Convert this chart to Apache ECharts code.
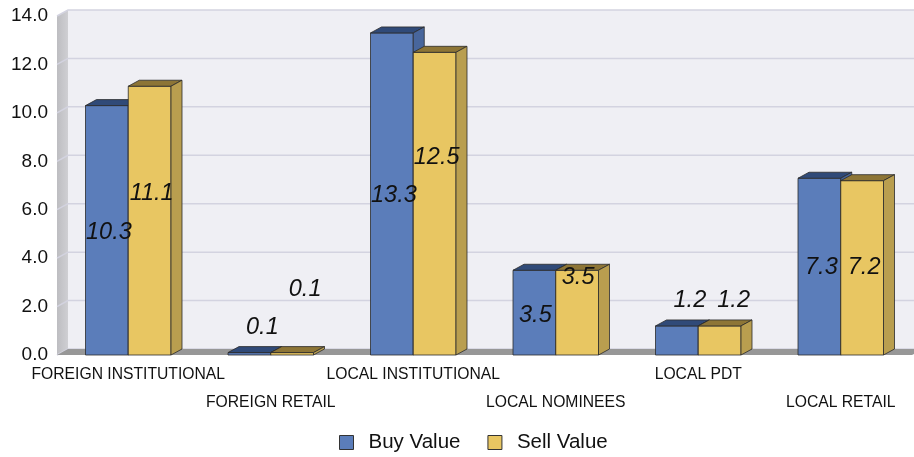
<!DOCTYPE html>
<html>
<head>
<meta charset="utf-8">
<script src="https://cdn.jsdelivr.net/npm/echarts@6/dist/echarts.min.js"></script>
<style>
  html, body { margin: 0; padding: 0; background: #fff; }
  #main { width: 914px; height: 457px; }
</style>
</head>
<body>
<div id="main"></div>
<script>
// data
var categories = ['FOREIGN INSTITUTIONAL', 'FOREIGN RETAIL', 'LOCAL INSTITUTIONAL', 'LOCAL NOMINEES', 'LOCAL PDT', 'LOCAL RETAIL'];
var buyValue = [10.3, 0.1, 13.3, 3.5, 1.2, 7.3];
var sellValue = [11.1, 0.1, 12.5, 3.5, 1.2, 7.2];
var yTicks = [0, 2, 4, 6, 8, 10, 12, 14];

// 3d depth offset (px)
var DX = 11, DY = -6;
var FONT = '"Liberation Sans", Arial, sans-serif';

// where the value labels sit: px above the floor, px to the right of the bar centre
var buyLabelRise = [123, 28, 160, 40, 55, 88];
var sellLabelRise = [162, 66, 198, 78, 55, 88];
var buyLabelShift = [2, 13, 2, 1, 13, 2];
var sellLabelShift = [2, 13, 2, 1, 14, 2];

var chart = echarts.init(document.getElementById('main'));

// walls + floor behind the bars
function renderWall(params, api) {
  var cs = params.coordSys;
  var x = cs.x, y = cs.y, w = cs.width, h = cs.height;
  var kids = [
    { type: 'rect', shape: { x: x + DX, y: y + DY, width: w, height: h },
      style: { fill: '#efeff4' } },
    { type: 'polygon', shape: { points: [[x, y], [x + DX, y + DY], [x + DX, y + h + DY], [x, y + h]] },
      style: { fill: new echarts.graphic.LinearGradient(0, 0, 1, 0, [
        { offset: 0, color: '#bdbdc1' }, { offset: 1, color: '#cfcfd3' }]) } }
  ];
  yTicks.forEach(function (v) {
    var yy = api.coord([0, v])[1];
    kids.push({ type: 'polyline', shape: { points: [[x, yy], [x + DX, yy + DY], [x + w + DX, yy + DY]] },
      style: { stroke: '#d3d3e0', lineWidth: 1.5, fill: null } });
  });
  kids.push({ type: 'polygon', shape: { points: [[x, y + h], [x + DX, y + h + DY], [x + w + DX, y + h + DY], [x + w, y + h]] },
    style: { fill: '#979797' } });
  return { type: 'group', children: kids };
}

function makeBar(side, vals, rise, shift, front, top, right) {
  return function (params, api) {
    var i = api.value(0), v = api.value(1);
    var base = api.coord([i, 0]);
    var tip = api.coord([i, v]);
    var bw = api.size([1, 0])[0] * 0.3;
    var x0 = side === 0 ? base[0] - bw : base[0];
    var x1 = x0 + bw;
    var yb = base[1], yt = tip[1];
    var line = { stroke: '#2b2b2b', lineWidth: 0.8 };
    return {
      type: 'group',
      children: [
        { type: 'rect', shape: { x: x0, y: yt, width: bw, height: yb - yt },
          style: Object.assign({ fill: front }, line) },
        { type: 'polygon', shape: { points: [[x0, yt], [x0 + DX, yt + DY], [x1 + DX, yt + DY], [x1, yt]] },
          style: Object.assign({ fill: top }, line) },
        { type: 'polygon', shape: { points: [[x1, yt], [x1 + DX, yt + DY], [x1 + DX, yb + DY], [x1, yb]] },
          style: Object.assign({ fill: right }, line) },
        { type: 'text', z2: 100, x: (x0 + x1) / 2 + shift[i], y: yb - rise[i],
          style: { text: vals[i].toFixed(1), font: 'italic 23.5px ' + FONT, fill: '#111',
                   align: 'center', verticalAlign: 'middle' } }
      ]
    };
  };
}

var option = {
  backgroundColor: '#fff',
  animation: false,
  color: ['#5b7dba', '#e8c662'],
  grid: { left: 57, right: 2, top: 16, bottom: 102, containLabel: false },
  legend: {
    data: ['Buy Value', 'Sell Value'],
    top: 427,
    left: 334,
    itemWidth: 14,
    itemHeight: 14,
    itemGap: 27,
    icon: 'rect',
    itemStyle: { borderColor: '#333', borderWidth: 1 },
    textStyle: { fontFamily: FONT, fontSize: 20.5, color: '#111', padding: [0, 0, 0, 10] }
  },
  xAxis: {
    type: 'category',
    data: categories,
    axisLine: { show: false },
    axisTick: { show: false },
    splitLine: { show: false },
    axisLabel: {
      interval: 0,
      margin: 6,
      fontFamily: FONT,
      fontSize: 15.7,
      color: '#111',
      lineHeight: 28,
      verticalAlign: 'top',
      formatter: function (v, idx) { return idx % 2 ? '\n' + v : v; }
    }
  },
  yAxis: {
    type: 'value',
    min: 0,
    max: 14,
    interval: 2,
    axisLine: { show: false },
    axisTick: { show: false },
    splitLine: { show: false },
    axisLabel: {
      margin: 9,
      fontFamily: FONT,
      fontSize: 19,
      color: '#111',
      formatter: function (v) { return v.toFixed(1); }
    }
  },
  series: [
    {
      type: 'custom',
      name: 'wall',
      z: 1,
      silent: true,
      clip: false,
      renderItem: renderWall,
      data: [[0, 0]]
    },
    {
      type: 'custom',
      name: 'Buy Value',
      z: 2,
      clip: false,
      itemStyle: { color: '#5b7dba' },
      renderItem: makeBar(0, buyValue, buyLabelRise, buyLabelShift, '#5b7dba', '#304a78', '#48669c'),
      data: buyValue.map(function (v, i) { return [i, v]; })
    },
    {
      type: 'custom',
      name: 'Sell Value',
      z: 2,
      clip: false,
      itemStyle: { color: '#e8c662' },
      renderItem: makeBar(1, sellValue, sellLabelRise, sellLabelShift, '#e8c662', '#8d7536', '#b99e4f'),
      data: sellValue.map(function (v, i) { return [i, v]; })
    }
  ]
};

chart.setOption(option);
</script>
</body>
</html>
